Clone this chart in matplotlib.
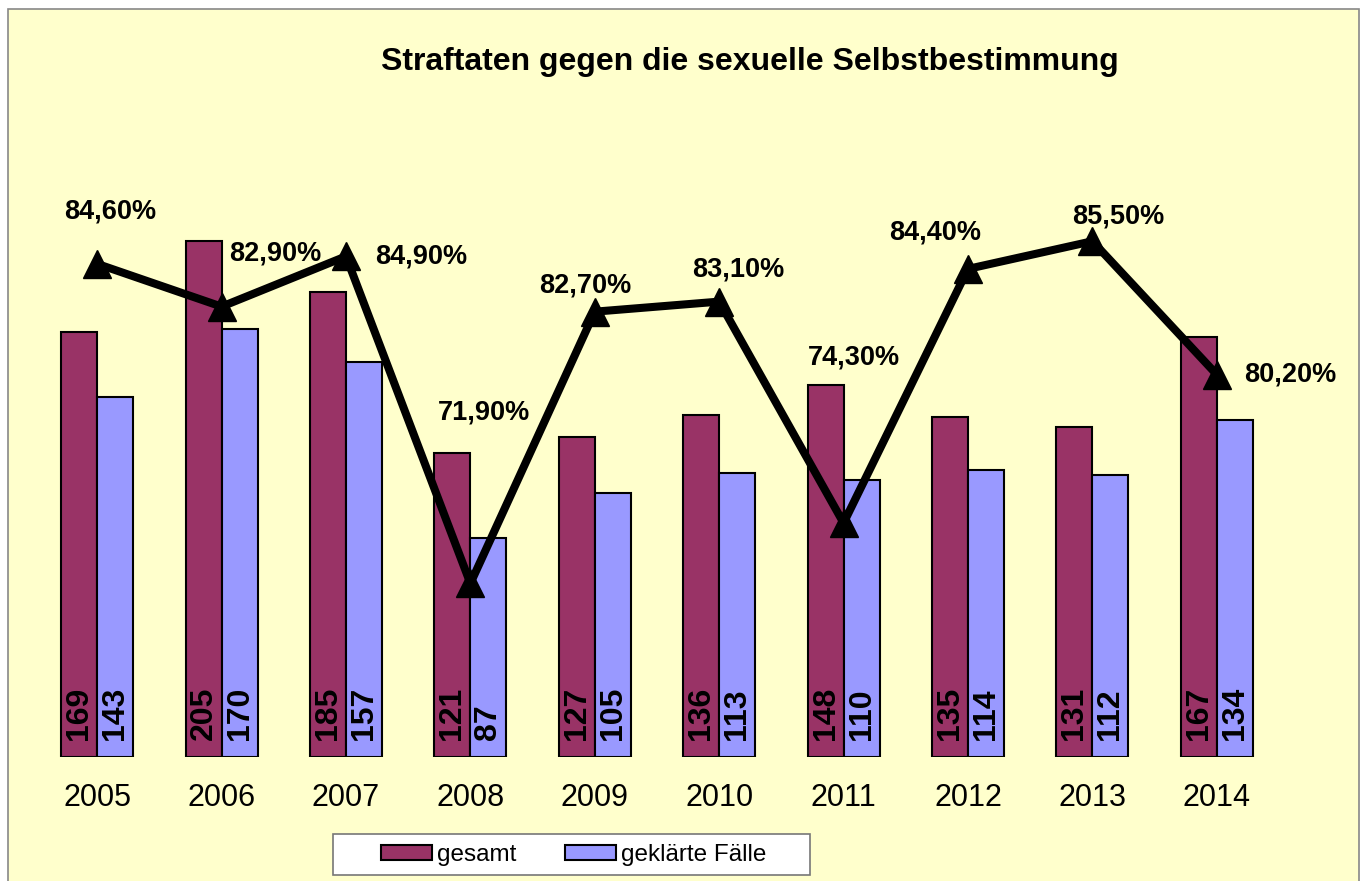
import matplotlib
matplotlib.use("Agg")
from matplotlib import pyplot as plt
from matplotlib.patches import Rectangle, Patch
import numpy as np

plt.rcParams['font.family'] = ['Liberation Sans', 'DejaVu Sans']

years = ['2005', '2006', '2007', '2008', '2009', '2010', '2011', '2012', '2013', '2014']
gesamt = [169, 205, 185, 121, 127, 136, 148, 135, 131, 167]
geklaert = [143, 170, 157, 87, 105, 113, 110, 114, 112, 134]
quote = [84.6, 82.9, 84.9, 71.9, 82.7, 83.1, 74.3, 84.4, 85.5, 80.2]

# where the percent labels sit relative to the markers (pixels)
label_offsets = [(13, 52), (54, 53), (75, 0), (14, 171), (-10, 26),
                 (19, 32), (10, 166), (-33, 36), (26, 25), (73, 0)]

bg = '#FFFFCC'
c_ges = '#993366'
c_gek = '#9999FF'

fig = plt.figure(figsize=(13.66, 8.81), dpi=100, facecolor='white')

# chart area frame
fig.patches.append(Rectangle((8 / 1366, -0.01), 1351 / 1366, 1 - 9 / 881 + 0.01,
                             transform=fig.transFigure, facecolor=bg,
                             edgecolor='#888888', linewidth=1.2, zorder=-10))

ax = fig.add_axes([35 / 1366, 1 - 757 / 881, 1244 / 1366, 629 / 881])
ax.set_facecolor('none')
ax.set_zorder(2)
x = np.arange(len(years))
w = 0.29
b1 = ax.bar(x - w / 2, gesamt, w, color=c_ges, edgecolor='black', linewidth=1.5)
b2 = ax.bar(x + w / 2, geklaert, w, color=c_gek, edgecolor='black', linewidth=1.5)

for bars, vals in ((b1, gesamt), (b2, geklaert)):
    for r, v in zip(bars, vals):
        ax.annotate(str(v), (r.get_x() + r.get_width() / 2, 0),
                    xytext=(0, 17), textcoords='offset pixels',
                    rotation=90, ha='center', va='bottom',
                    fontsize=23, fontweight='bold')

ax.set_xlim(-0.5, len(years) - 0.5)
ax.set_ylim(0, 250)
ax.set_xticks(x)
ax.set_xticklabels(years, fontsize=22)
ax.tick_params(axis='x', length=0, pad=19)
ax.set_yticks([])
for s in ax.spines.values():
    s.set_visible(False)

ax2 = ax.twinx()
ax2.set_zorder(3)
ax2.set_facecolor('none')
ax2.set_ylim(65, 90)
ax2.plot(x, quote, color='black', linewidth=5.8, marker='^', markersize=20,
         markerfacecolor='black', markeredgecolor='black', zorder=5)
for xi, q, off in zip(x, quote, label_offsets):
    ax2.annotate(f"{q:.2f}%".replace('.', ','), (xi, q), xytext=off,
                 textcoords='offset pixels', ha='center', va='center',
                 fontsize=19.5, fontweight='bold')
ax2.set_yticks([])
for s in ax2.spines.values():
    s.set_visible(False)

fig.text(750 / 1366, 1 - 62 / 881, 'Straftaten gegen die sexuelle Selbstbestimmung',
         ha='center', va='center', fontsize=23, fontweight='bold')

# legend box
fig.patches.append(Rectangle((333 / 1366, 1 - 875 / 881), 477 / 1366, 41 / 881,
                             transform=fig.transFigure, facecolor='white',
                             edgecolor='#777777', linewidth=1.2, zorder=-5))
handles = [Patch(facecolor=c_ges, edgecolor='black', linewidth=1.5, label='gesamt'),
           Patch(facecolor=c_gek, edgecolor='black', linewidth=1.5, label='geklärte Fälle')]
fig.legend(handles=handles, loc='center', bbox_to_anchor=(574 / 1366, 1 - 855 / 881),
           ncol=2, frameon=False, fontsize=17.5, handlelength=2.1, handleheight=0.55,
           handletextpad=0.2, columnspacing=2.0)

fig.savefig('out.png', dpi=100, facecolor='white')
